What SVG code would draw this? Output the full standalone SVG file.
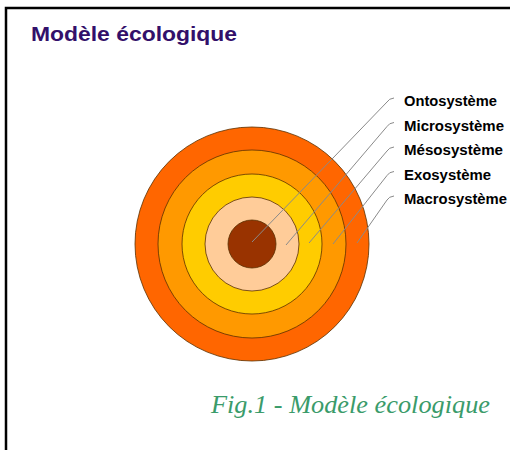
<svg xmlns="http://www.w3.org/2000/svg" width="510" height="450" viewBox="0 0 510 450">
<style>
.ring{stroke:#5a3000;stroke-width:0.8}
.lbl{font-family:"Liberation Sans",Arial,sans-serif;font-weight:bold;font-size:14px;fill:#000}
.lead{fill:none;stroke:#8a8a8a;stroke-width:1}
</style>
<rect width="510" height="450" fill="#fff"/>
<path d="M6 450 V8 H510" fill="none" stroke="#000" stroke-width="2.5"/>
<text x="31" y="41" font-family="'Liberation Sans',Arial,sans-serif" font-weight="bold" font-size="20" fill="#33106a" textLength="206" lengthAdjust="spacingAndGlyphs">Modèle écologique</text>
<g id="macrosysteme"><circle class="ring" cx="252" cy="244" r="117" fill="#ff6600"/></g>
<g id="exosysteme"><circle class="ring" cx="252" cy="244" r="94" fill="#ff9900"/></g>
<g id="mesosysteme"><circle class="ring" cx="252" cy="244" r="70" fill="#ffcc00"/></g>
<g id="microsysteme"><circle class="ring" cx="252" cy="244" r="47" fill="#ffcc99"/></g>
<g id="ontosysteme"><circle class="ring" cx="252" cy="244" r="24" fill="#993300"/></g>
<g id="connectors">
<path class="lead" d="M252 242 L387 102 Q389 98.5 394 98"/>
<path class="lead" d="M286 245 L387 126.5 Q389 123 394 122.5"/>
<path class="lead" d="M309 243 L387 151 Q389 147.5 394 147"/>
<path class="lead" d="M333 244 L387 175.5 Q389 172 394 171.5"/>
<path class="lead" d="M357 243 L387 200 Q389 196.5 394 196"/>
</g>
<g id="labels">
<text class="lbl" x="404" y="106" textLength="93" lengthAdjust="spacingAndGlyphs">Ontosystème</text>
<text class="lbl" x="404" y="130.5" textLength="100" lengthAdjust="spacingAndGlyphs">Microsystème</text>
<text class="lbl" x="404" y="155" textLength="99" lengthAdjust="spacingAndGlyphs">Mésosystème</text>
<text class="lbl" x="404" y="179.5" textLength="87" lengthAdjust="spacingAndGlyphs">Exosystème</text>
<text class="lbl" x="404" y="204" textLength="103" lengthAdjust="spacingAndGlyphs">Macrosystème</text>
</g>
<text x="211" y="413" font-family="'Liberation Serif','Times New Roman',serif" font-style="italic" font-size="25" fill="#3a9b6a" textLength="279" lengthAdjust="spacingAndGlyphs">Fig.1 - Modèle écologique</text>
</svg>
